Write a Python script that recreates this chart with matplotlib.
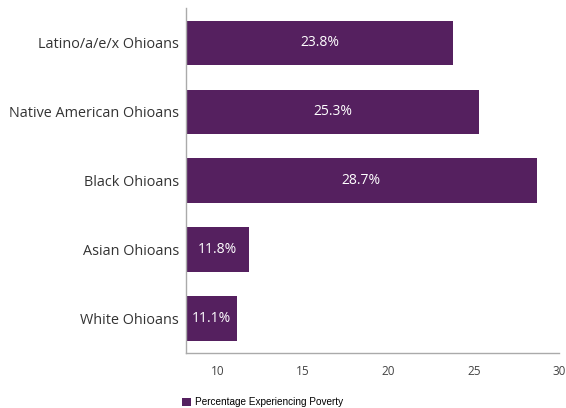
import matplotlib
matplotlib.use("Agg")
import matplotlib.pyplot as plt
from matplotlib.patches import Patch

categories = ["Latino/a/e/x Ohioans", "Native American Ohioans", "Black Ohioans", "Asian Ohioans", "White Ohioans"]
values = [23.8, 25.3, 28.7, 11.8, 11.1]
xticks = [10, 15, 20, 25, 30]
series_name = "Percentage Experiencing Poverty"

color = "#55205f"
fig = plt.figure(figsize=(5.66, 4.08), dpi=100)
ax = fig.add_axes([0.3286, 0.135, 0.659, 0.845])
ypos = list(range(len(categories)))
left = 8.13
ax.barh(ypos, [v - left for v in values], left=left, height=0.64, color=color)
for y, v in zip(ypos, values):
    ax.text((left + v) / 2, y, f"{v}%", ha="center", va="center", color="white",
            fontsize=10, family="Open Sans")
ax.set_yticks(ypos)
ax.set_yticklabels(categories, family="Open Sans", fontsize=10.4, color="#333333")
ax.set_ylim(len(categories) - 0.5, -0.5)
ax.set_xlim(left, 30)
ax.set_xticks(xticks)
ax.set_xticklabels([str(t) for t in xticks], family="Open Sans", fontsize=8.5, color="#444444")
ax.tick_params(axis="both", length=0)
ax.tick_params(axis="x", pad=9)
ax.tick_params(axis="y", pad=5)
for s in ["top", "right"]:
    ax.spines[s].set_visible(False)
for s in ["left", "bottom"]:
    ax.spines[s].set_color("#aaaaaa")
    ax.spines[s].set_linewidth(1)

fig.legend(handles=[Patch(facecolor=color, label=series_name)], loc="lower left",
           bbox_to_anchor=(0.305, -0.02), frameon=False,
           prop={"family": "Liberation Sans", "size": 7.2}, handlelength=0.9, handleheight=0.9,
           handletextpad=0.4)
fig.savefig("out.png", dpi=100)
